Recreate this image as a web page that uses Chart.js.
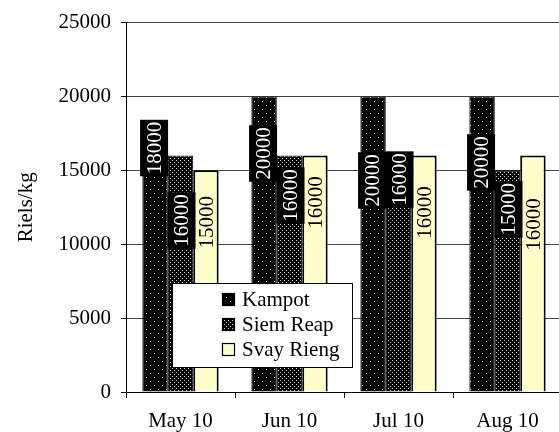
<!DOCTYPE html>
<html>
<head>
<meta charset="utf-8">
<script src="https://cdn.jsdelivr.net/npm/chart.js@4.4.1/dist/chart.umd.min.js"></script>
<style>
  html, body { margin: 0; padding: 0; background: #fff; overflow: hidden; }
  canvas { display: block; }
</style>
</head>
<body>
<canvas id="priceChart" width="562" height="432"></canvas>
<script>
// data
const months = ['May 10', 'Jun 10', 'Jul 10', 'Aug 10'];
const kampot = [18000, 20000, 20000, 20000];
const siemReap = [16000, 16000, 16000, 15000];
const svayRieng = [15000, 16000, 16000, 16000];
const yTicks = [0, 5000, 10000, 15000, 20000, 25000];

// how far below the bar top each value label sits (px)
const labelDrop = [
    [22, 57, 84, 66],
    [65, 40, 24, 39],
    [52, 47, 57, 69]
];
const labelLook = [
    { box: true, color: '#fff', shift: -1 },
    { box: true, color: '#fff', shift: 1 },
    { box: false, color: '#000', shift: 1 }
];

const FONT = "'Liberation Serif', 'Times New Roman', serif";

const canvas = document.getElementById('priceChart');
const ctx = canvas.getContext('2d');

// 점 무늬 패턴
function dotPattern(size, dots, fg) {
    const c = document.createElement('canvas');
    c.width = size;
    c.height = size;
    const g = c.getContext('2d');
    g.fillStyle = '#000';
    g.fillRect(0, 0, size, size);
    g.fillStyle = fg;
    dots.forEach(d => g.fillRect(d[0], d[1], 1, 1));
    return ctx.createPattern(c, 'repeat');
}

const kampotFill = dotPattern(8, [[2, 1], [6, 5]], '#e8e8e8');
const siemReapFill = dotPattern(4, [[0, 0], [2, 2]], '#d0d0d0');

// 데이터 라벨
const valueLabels = {
    id: 'valueLabels',
    afterDatasetsDraw(chart) {
        const c = chart.ctx;
        c.save();
        c.font = '21px ' + FONT;
        chart.data.datasets.forEach((ds, i) => {
            const meta = chart.getDatasetMeta(i);
            const look = labelLook[i];
            meta.data.forEach((bar, j) => {
                const text = String(ds.data[j]);
                c.save();
                c.translate(bar.x + look.shift, bar.y + labelDrop[i][j]);
                c.rotate(-Math.PI / 2);
                if (look.box) {
                    const w = c.measureText(text).width + 4;
                    c.fillStyle = '#000';
                    c.fillRect(-w / 2, -14, w, 28);
                }
                c.fillStyle = look.color;
                c.textAlign = 'center';
                c.textBaseline = 'middle';
                c.fillText(text, 0, 1);
                c.restore();
            });
        });
        c.restore();
    }
};

// 범례 박스
const boxLegend = {
    id: 'boxLegend',
    afterDraw(chart) {
        const c = chart.ctx;
        c.save();
        c.fillStyle = '#fff';
        c.fillRect(172, 283, 180, 84);
        c.strokeStyle = '#000';
        c.lineWidth = 1;
        c.strokeRect(172.5, 283.5, 180, 84);
        c.font = '21px ' + FONT;
        c.textBaseline = 'middle';
        chart.data.datasets.forEach((ds, i) => {
            const y = 299 + i * 25;
            c.fillStyle = ds.backgroundColor;
            c.fillRect(222, y - 6, 13, 13);
            c.strokeStyle = '#000';
            c.lineWidth = 1.2;
            c.strokeRect(222.5, y - 5.5, 12, 12);
            c.fillStyle = '#000';
            c.fillText(ds.label, 242, y + 1);
        });
        c.restore();
    }
};

new Chart(ctx, {
    type: 'bar',
    data: {
        labels: months,
        datasets: [
            {
                label: 'Kampot',
                data: kampot,
                backgroundColor: kampotFill,
                borderColor: '#000',
                borderWidth: 1
            },
            {
                label: 'Siem Reap',
                data: siemReap,
                backgroundColor: siemReapFill,
                borderColor: '#000',
                borderWidth: 1
            },
            {
                label: 'Svay Rieng',
                data: svayRieng,
                backgroundColor: '#ffffcc',
                borderColor: '#000',
                borderWidth: 2
            }
        ]
    },
    options: {
        responsive: false,
        animation: false,
        devicePixelRatio: 1,
        layout: { padding: { top: 21, right: 0, bottom: 0, left: 0 } },
        datasets: {
            bar: { categoryPercentage: 0.7, barPercentage: 1.0 }
        },
        plugins: {
            legend: { display: false },
            tooltip: { enabled: false }
        },
        scales: {
            x: {
                offset: true,
                grid: {
                    offset: true,
                    drawOnChartArea: false,
                    drawTicks: true,
                    tickLength: 6,
                    color: '#000'
                },
                border: { color: '#000', width: 1 },
                ticks: {
                    color: '#000',
                    padding: 11,
                    font: { family: FONT, size: 21 }
                },
                afterFit(scale) { scale.height = 40; }
            },
            y: {
                min: 0,
                max: 25000,
                afterBuildTicks(scale) {
                    scale.ticks = yTicks.map(v => ({ value: v }));
                },
                grid: {
                    color: '#444',
                    tickColor: '#000',
                    tickLength: 5
                },
                border: { color: '#000', width: 1 },
                ticks: {
                    color: '#000',
                    padding: 10,
                    font: { family: FONT, size: 21 },
                    callback: v => String(v)
                },
                title: {
                    display: true,
                    text: 'Riels/kg',
                    color: '#000',
                    font: { family: FONT, size: 21 },
                    padding: { top: 14, bottom: 0 }
                },
                afterFit(scale) { scale.width = 126; }
            }
        }
    },
    plugins: [valueLabels, boxLegend]
});
</script>
</body>
</html>
